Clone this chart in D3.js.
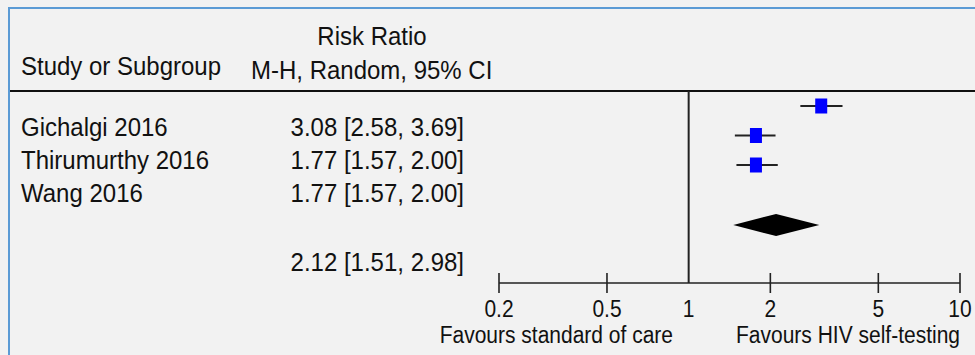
<!DOCTYPE html>
<html>
<head>
<meta charset="utf-8">
<script src="https://cdn.jsdelivr.net/npm/d3@7"></script>
<style>
  html, body { margin: 0; padding: 0; background: #f2f2f2; }
  svg { display: block; }
  text { font-family: "Liberation Sans", Arial, Helvetica, sans-serif; font-size: 24px; fill: #111; }
  text.small { font-size: 21px; }
</style>
</head>
<body>
<svg id="chart" width="975" height="355"></svg>
<script>
// ---- data ----
const studies = ["Gichalgi 2016", "Thirumurthy 2016", "Wang 2016"];
const estimateLabels = ["3.08 [2.58, 3.69]", "1.77 [1.57, 2.00]", "1.77 [1.57, 2.00]"];
const riskRatio = [3.08, 1.77, 1.77];
const ciLow = [2.58, 1.48, 1.50];
const ciHigh = [3.69, 2.09, 2.13];
const pooledLabel = "2.12 [1.51, 2.98]";
const pooled = { rr: 2.10, lo: 1.46, hi: 3.03 };
const tickValues = [0.2, 0.5, 1, 2, 5, 10];
const tickLabels = ["0.2", "0.5", "1", "2", "5", "10"];
const favoursLeft = "Favours standard of care";
const favoursRight = "Favours HIV self-testing";

// ---- layout ----
const svg = d3.select("#chart");
const W = 975, H = 355;
const x = d3.scaleLog().domain([0.2, 10]).range([499, 960]);
const yMark = d3.scalePoint().domain(studies).range([106, 165]);
const yText = d3.scalePoint().domain(studies).range([136, 202]);
const axisY = 283;
const headerY = 91;
const sy = 1.1; // vertical stretch of glyphs

function txt(g, s, tx, ty, anchor, cls) {
  return g.append("text")
    .attr("class", cls || null)
    .attr("transform", `translate(${tx},${ty}) scale(1,${sy})`)
    .attr("text-anchor", anchor || "start")
    .text(s);
}

// background + panel border
svg.append("rect").attr("width", W).attr("height", H).attr("fill", "#f2f2f2");
svg.append("path")
  .attr("d", `M9,${H} L9,8 L${W},8`)
  .attr("fill", "none").attr("stroke", "#5b9bd5").attr("stroke-width", 2);

// header
txt(svg, "Study or Subgroup", 21, 75);
txt(svg, "Risk Ratio", 372, 45, "middle");
txt(svg, "M-H, Random, 95% CI", 251, 79);
svg.append("line").attr("x1", 10).attr("x2", W).attr("y1", headerY).attr("y2", headerY)
  .attr("stroke", "#111").attr("stroke-width", 2);

// study rows text
const rows = svg.append("g");
studies.forEach((s, i) => {
  txt(rows, s, 21, yText(s));
  txt(rows, estimateLabels[i], 464, yText(s), "end");
});
txt(svg, pooledLabel, 464, 271, "end");

// reference line at 1
svg.append("line").attr("x1", x(1)).attr("x2", x(1)).attr("y1", headerY).attr("y2", axisY)
  .attr("stroke", "#222").attr("stroke-width", 2);

// CI lines and markers
const marks = svg.append("g");
marks.selectAll("line.ci").data(studies).join("line")
  .attr("class", "ci")
  .attr("x1", (d, i) => x(ciLow[i])).attr("x2", (d, i) => x(ciHigh[i]))
  .attr("y1", d => yMark(d)).attr("y2", d => yMark(d))
  .attr("stroke", "#222").attr("stroke-width", 2);
marks.selectAll("rect.pt").data(studies).join("rect")
  .attr("class", "pt")
  .attr("x", (d, i) => x(riskRatio[i]) - 6).attr("y", d => yMark(d) - 7.5)
  .attr("width", 12).attr("height", 15)
  .attr("fill", "#0000ff");

// pooled diamond
const dy = 225, dh = 11;
svg.append("path")
  .attr("d", `M${x(pooled.lo)},${dy} L${x(pooled.rr)},${dy - dh} L${x(pooled.hi)},${dy} L${x(pooled.rr)},${dy + dh} Z`)
  .attr("fill", "#000");

// axis
const axis = svg.append("g");
axis.append("line").attr("x1", x(0.2)).attr("x2", x(10)).attr("y1", axisY).attr("y2", axisY)
  .attr("stroke", "#222").attr("stroke-width", 1.6);
axis.selectAll("line.tick").data(tickValues.filter(v => v !== 1)).join("line")
  .attr("class", "tick")
  .attr("x1", d => x(d)).attr("x2", d => x(d))
  .attr("y1", axisY - 10).attr("y2", axisY + 10)
  .attr("stroke", "#222").attr("stroke-width", 1.6);
tickValues.forEach((v, i) => txt(axis, tickLabels[i], x(v), 317, "middle", "small"));
txt(axis, favoursLeft, 673, 343, "end", "small");
txt(axis, favoursRight, 960, 343, "end", "small");
</script>
</body>
</html>
